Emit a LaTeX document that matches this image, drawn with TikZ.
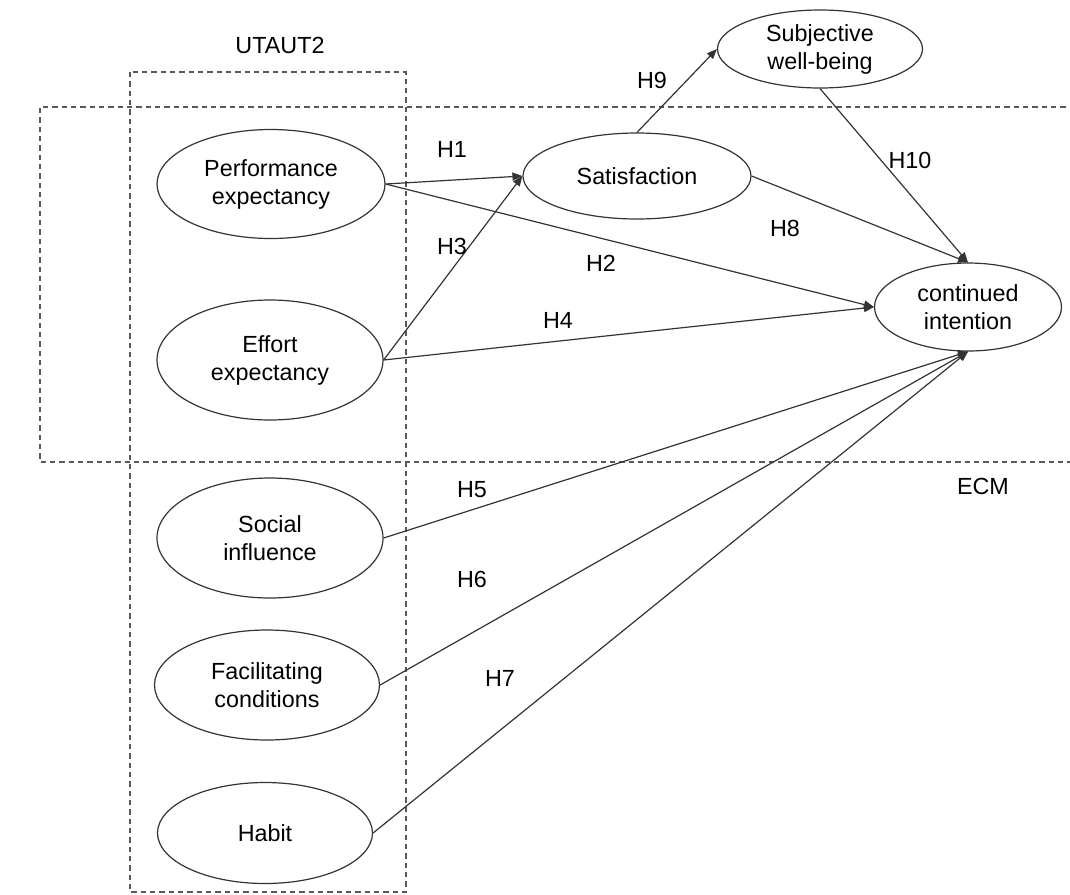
\documentclass[tikz,border=0pt]{standalone}
\usepackage{fontspec}
\setmainfont{Liberation Sans}
\usepackage{tikz}
\usetikzlibrary{shapes.geometric, arrows.meta, positioning}

\begin{document}
\begin{tikzpicture}[
  x=0.75pt, y=-0.75pt,
  construct/.style={ellipse, draw=black!80, line width=0.9pt, inner sep=0pt,
                    align=center, font=\fontsize{17.5}{21}\selectfont},
  hlabel/.style={font=\fontsize{17.5}{21}\selectfont, inner sep=0pt},
  frame/.style={draw=black!65, line width=0.8pt, dash pattern=on 4pt off 3pt},
  arrow/.style={-{Triangle[length=7.5pt, width=6pt]}, line width=0.9pt, draw=black!80}
]
\useasboundingbox (0,0) rectangle (1070,894);

% model frames
\draw[frame] (130,72) rectangle (406,892);
\draw[frame] (1075,107) -- (40,107) -- (40,462) -- (1075,462);
\node[hlabel] (utaut) at (280,45) {UTAUT2};
\node[hlabel] (ecm) at (983,486) {ECM};

% constructs
\node[construct, minimum width=171pt, minimum height=81.75pt] (pe) at (271,184) {Performance\\expectancy};
\node[construct, minimum width=169.5pt, minimum height=90pt] (ee) at (270,360) {Effort\\expectancy};
\node[construct, minimum width=169.5pt, minimum height=90pt] (si) at (270,538) {Social\\influence};
\node[construct, minimum width=168.75pt, minimum height=82.5pt] (fc) at (267,685) {Facilitating\\conditions};
\node[construct, minimum width=161.25pt, minimum height=75.75pt] (hab) at (265,833) {Habit};
\node[construct, minimum width=171pt, minimum height=64.5pt] (sat) at (637,176) {Satisfaction};
\node[construct, minimum width=153.75pt, minimum height=58.5pt] (swb) at (820,49) {Subjective\\well-being};
\node[construct, minimum width=140.25pt, minimum height=66pt] (ci) at (968,307) {continued\\intention};

% paths
\draw[arrow] (pe.east) -- (sat.west);
\draw[arrow] (pe.east) -- (ci.west);
\draw[arrow] (ee.east) -- (sat.west);
\draw[arrow] (ee.east) -- (ci.west);
\draw[arrow] (si.east) -- (ci.south);
\draw[arrow] (fc.east) -- (ci.south);
\draw[arrow] (hab.east) -- (ci.south);
\draw[arrow] (sat.east) -- (ci.north);
\draw[arrow] (sat.north) -- (swb.west);
\draw[arrow] (swb.south) -- (ci.north);

% hypotheses
\node[hlabel] (h1) at (452,149) {H1};
\node[hlabel] (h2) at (601,263) {H2};
\node[hlabel] (h3) at (452,246) {H3};
\node[hlabel] (h4) at (558,320) {H4};
\node[hlabel] (h5) at (472,490) {H5};
\node[hlabel] (h6) at (472,579) {H6};
\node[hlabel] (h7) at (500,678) {H7};
\node[hlabel] (h8) at (785,228) {H8};
\node[hlabel] (h9) at (652,80) {H9};
\node[hlabel] (h10) at (910,160) {H10};

\end{tikzpicture}
\end{document}
